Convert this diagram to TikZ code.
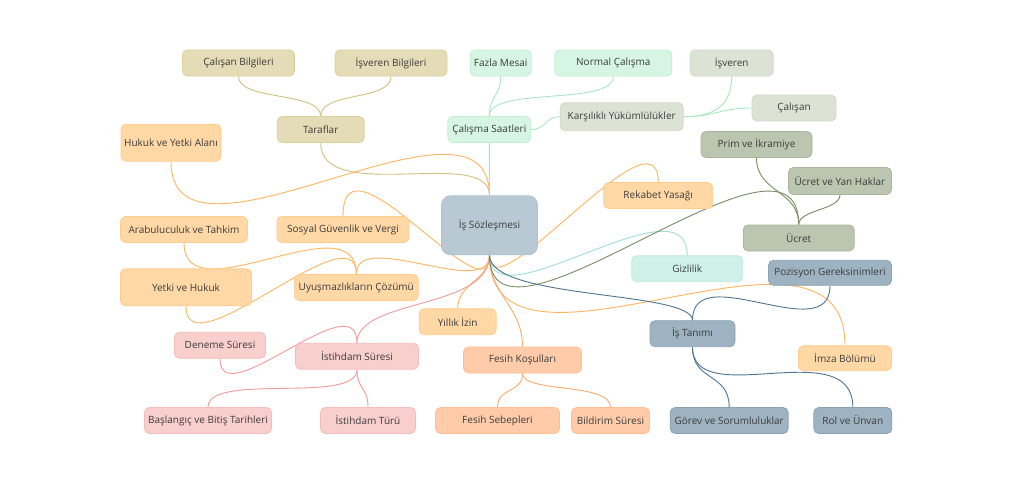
\documentclass[tikz,border=0pt]{standalone}
\usepackage{fontspec}
\setmainfont{Open Sans}
\usetikzlibrary{backgrounds}
\definecolor{txt}{HTML}{3C3C3C}
\definecolor{tanF}{HTML}{E4DBB7}\definecolor{tanD}{HTML}{DCCF9C}\definecolor{tanE}{HTML}{D2C07E}
\definecolor{mintF}{HTML}{D6F5E3}\definecolor{mintD}{HTML}{C3EFD3}\definecolor{mintE}{HTML}{A9E7C3}
\definecolor{sageF}{HTML}{DCE3D5}\definecolor{sageD}{HTML}{CFD9C6}
\definecolor{orF}{HTML}{FFD8A6}\definecolor{orD}{HTML}{FFCC8C}\definecolor{orE}{HTML}{FFB55E}
\definecolor{peF}{HTML}{FFCBA9}\definecolor{peD}{HTML}{FFBE97}\definecolor{peE}{HTML}{F9AC6C}
\definecolor{piF}{HTML}{F8CFCC}\definecolor{piD}{HTML}{F3BDB9}\definecolor{piE}{HTML}{F09B97}
\definecolor{aqF}{HTML}{CEF1EA}\definecolor{aqD}{HTML}{BDEBE2}\definecolor{aqE}{HTML}{9EDFD4}
\definecolor{olF}{HTML}{BCC5B0}\definecolor{olD}{HTML}{A9B49C}\definecolor{olE}{HTML}{7D8B62}
\definecolor{blF}{HTML}{9EB3C1}\definecolor{blD}{HTML}{8CA2B2}\definecolor{blE}{HTML}{4D7493}
\definecolor{rootF}{HTML}{B8C9D3}\definecolor{rootD}{HTML}{AFC2CD}
\begin{document}
\begin{tikzpicture}[x=1pt,y=-1pt,
  box/.style={rounded corners=5pt, line width=0.8pt, inner sep=0pt, text=txt,
    font=\fontsize{10}{12}\selectfont, align=center},
  tanbox/.style={box, fill=tanF, draw=tanD},
  mintbox/.style={box, fill=mintF, draw=mintD},
  sagebox/.style={box, fill=sageF, draw=sageD},
  orbox/.style={box, fill=orF, draw=orD},
  pebox/.style={box, fill=peF, draw=peD},
  pibox/.style={box, fill=piF, draw=piD},
  aqbox/.style={box, fill=aqF, draw=aqD},
  olbox/.style={box, fill=olF, draw=olD},
  blbox/.style={box, fill=blF, draw=blD},
  rootbox/.style={box, fill=rootF, draw=rootD, rounded corners=9pt},
  wh/.style 2 args={minimum width=#1pt, minimum height=#2pt},
  link/.style={line width=0.9pt},
  tanline/.style={link, draw=tanE},
  mintline/.style={link, draw=mintE},
  orline/.style={link, draw=orE},
  peline/.style={link, draw=peE},
  piline/.style={link, draw=piE},
  aqline/.style={link, draw=aqE},
  olline/.style={link, draw=olE},
  blline/.style={link, draw=blE}]
\useasboundingbox (0,0) rectangle (1026,479);

% nodes
\node[rootbox, wh={96}{59}] (root) at (489.5,225.3) {İş Sözleşmesi};
\node[tanbox, wh={112}{26}] (cb) at (238.5,63) {Çalışan Bilgileri};
\node[tanbox, wh={112}{26}] (ib) at (391,63) {İşveren Bilgileri};
\node[tanbox, wh={87}{26}] (taraf) at (320.7,129.5) {Taraflar};
\node[mintbox, wh={61}{26}] (fm) at (500.7,63) {Fazla Mesai};
\node[mintbox, wh={117}{26}] (nc) at (613.3,63) {Normal Çalışma};
\node[mintbox, wh={83}{26}] (cs) at (489.3,129.5) {Çalışma Saatleri};
\node[sagebox, wh={123}{28}] (ky) at (621.7,116.7) {Karşılıklı Yükümlülükler};
\node[sagebox, wh={83}{26}] (isv) at (731.7,63) {İşveren};
\node[sagebox, wh={84}{26}] (cal) at (794,108) {Çalışan};
\node[orbox, wh={100}{37}] (hya) at (171,142.7) {Hukuk ve Yetki Alanı};
\node[orbox, wh={127}{26}] (arb) at (184,229.5) {Arabuluculuk ve Tahkim};
\node[orbox, wh={132}{26}] (sgv) at (343,229.5) {Sosyal Güvenlik ve Vergi};
\node[orbox, wh={131}{37}] (yh) at (186,287.3) {Yetki ve Hukuk};
\node[orbox, wh={124}{26}] (uc) at (356.3,287.5) {Uyuşmazlıkların Çözümü};
\node[orbox, wh={77}{26}] (yi) at (457.7,321.7) {Yıllık İzin};
\node[orbox, wh={109}{26}] (rek) at (658.2,195.5) {Rekabet Yasağı};
\node[orbox, wh={93}{25}] (imza) at (845,358.2) {İmza Bölümü};
\node[pibox, wh={91}{26}] (ds) at (220,345.3) {Deneme Süresi};
\node[pibox, wh={123}{26}] (ist) at (357,356.3) {İstihdam Süresi};
\node[pibox, wh={127}{26}] (bbt) at (208,420.5) {Başlangıç ve Bitiş Tarihleri};
\node[pibox, wh={95}{26}] (it) at (368,420.5) {İstihdam Türü};
\node[pebox, wh={118}{26}] (fk) at (522.5,360) {Fesih Koşulları};
\node[pebox, wh={124}{26}] (fs) at (497.5,420.5) {Fesih Sebepleri};
\node[pebox, wh={78}{26}] (bs) at (610.5,420.5) {Bildirim Süresi};
\node[aqbox, wh={111}{26}] (giz) at (687.2,268.7) {Gizlilik};
\node[olbox, wh={111}{26}] (prim) at (756.5,144.5) {Prim ve İkramiye};
\node[olbox, wh={103}{27}] (uyh) at (840,181) {Ücret ve Yan Haklar};
\node[olbox, wh={111}{26}] (ucr) at (798.7,238) {Ücret};
\node[blbox, wh={123}{25}] (poz) at (830,272.8) {Pozisyon Gereksinimleri};
\node[blbox, wh={85}{26}] (itn) at (692.5,333.7) {İş Tanımı};
\node[blbox, wh={118}{26}] (gs) at (729.2,420.5) {Görev ve Sorumluluklar};
\node[blbox, wh={78}{26}] (rol) at (852.8,420.5) {Rol ve Ünvan};

\begin{pgfonlayer}{background}
\fill[white] (0,0) rectangle (1026,479);
% tan
\draw[tanline] (root.north) .. controls +(0,-50) and +(0,63) .. (taraf.south);
\draw[tanline] (taraf.north) .. controls +(0,-25) and +(0,25) .. (cb.south);
\draw[tanline] (taraf.north) .. controls +(0,-25) and +(0,25) .. (ib.south);
% mint
\draw[mintline] (root.north) -- (cs.south);
\draw[mintline] (cs.north) .. controls +(0,-20) and +(0,20) .. (fm.south);
\draw[mintline] (cs.north) .. controls +(0,-30) and +(0,30) .. (nc.south);
\draw[mintline] (cs.east) .. controls +(15,0) and +(-15,0) .. (ky.west);
\draw[mintline] (ky.east) .. controls +(30,0) and +(0,30) .. (isv.south);
\draw[mintline] (ky.east) .. controls +(30,0) and +(-30,0) .. (cal.west);
% orange
\draw[orline] (root.north) .. controls +(0,-128) and +(0,130) .. (hya.south);
\draw[orline] (root.south) .. controls +(0,67) and +(0,-93) .. (sgv.north);
\draw[orline] (root.south) .. controls +(0,45) and +(0,-46) .. (uc.north);
\draw[orline] (uc.north) .. controls +(0,-75) and +(0,75) .. (arb.south);
\draw[orline] (uc.north) .. controls +(0,-66) and +(0,68) .. (yh.south);
\draw[orline] (root.south) .. controls +(0,25) and +(0,-25) .. (yi.north);
\draw[orline] (root.south) .. controls +(0,64) and +(0,-81) .. (rek.north);
\draw[orline] (root.south) .. controls +(0,154) and +(0,-160) .. (imza.north);
% peach
\draw[peline] (root.south) .. controls +(0,40) and +(0,-40) .. (fk.north);
\draw[peline] (fk.south) .. controls +(0,20) and +(0,-20) .. (fs.north);
\draw[peline] (fk.south) .. controls +(0,20) and +(0,-25) .. (bs.north);
% pink
\draw[piline] (root.south) .. controls +(0,55) and +(0,-45) .. (ist.north);
\draw[piline] (ist.north) .. controls +(0,-62) and +(0,58) .. (ds.south);
\draw[piline] (ist.south) .. controls +(0,35) and +(0,-35) .. (bbt.north);
\draw[piline] (ist.south) .. controls +(0,20) and +(0,-20) .. (it.north);
% aqua
\draw[aqline] (root.south) .. controls +(0,72) and +(0,-80) .. (giz.north);
% olive
\draw[olline] (root.south) .. controls +(0,122) and +(0,-126) .. (ucr.north);
\draw[olline] (ucr.north) .. controls +(0,-35) and +(0,35) .. (prim.south);
\draw[olline] (ucr.north) .. controls +(0,-15) and +(0,15) .. (uyh.south);
% blue
\draw[blline] (root.south) .. controls +(0,45) and +(0,-30) .. (itn.north);
\draw[blline] (itn.north) .. controls +(0,-63) and +(0,63) .. (poz.south);
\draw[blline] (itn.south) .. controls +(0,35) and +(0,-35) .. (gs.north);
\draw[blline] (itn.south) .. controls +(0,65) and +(0,-75) .. (rol.north);
\end{pgfonlayer}
\end{tikzpicture}
\end{document}
